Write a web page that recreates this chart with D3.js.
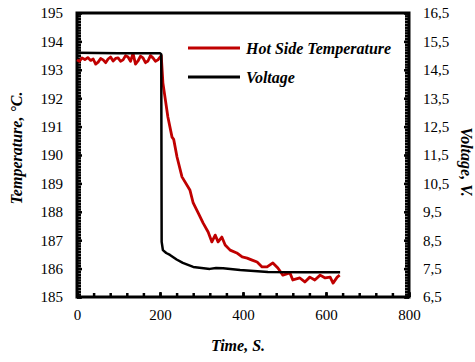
<!DOCTYPE html>
<html>
<head>
<meta charset="utf-8">
<script src="https://cdn.jsdelivr.net/npm/d3@7"></script>
<style>
  body { margin: 0; background: #fff; }
  svg text { font-family: "Liberation Serif", "Times New Roman", Times, serif; }
  .ttl { font-weight: bold; font-style: italic; font-size: 16px; }
</style>
</head>
<body>
<svg width="475" height="362"></svg>
<script>
// hot side temperature (left axis, °C)
const tempTime = [0, 6, 12, 19, 26, 33, 39, 45, 51, 57, 63, 69, 75, 81, 87, 93, 99, 105, 111, 117, 123, 129, 135, 141, 147, 153, 159, 165, 171, 177, 183, 189, 195, 203,
  207, 219, 229, 233, 241, 253, 272, 280, 292, 304, 316, 325, 333, 340, 349, 357, 369, 385, 398,
  410, 422, 434, 446, 458, 472, 484, 496, 513, 520, 537, 549, 561, 573, 586, 598, 610, 617, 627, 633];
const tempVal = [193.35, 193.3, 193.42, 193.36, 193.43, 193.33, 193.38, 193.2, 193.27, 193.4, 193.35, 193.25, 193.38, 193.45, 193.31, 193.4, 193.42, 193.3, 193.35, 193.5, 193.45, 193.3, 193.58, 193.2, 193.31, 193.48, 193.42, 193.25, 193.31, 193.5, 193.42, 193.3, 193.35, 193.5,
  192.54, 191.34, 190.63, 190.55, 189.93, 189.23, 188.77, 188.31, 187.96, 187.6, 187.29, 186.94, 187.18, 186.94, 187.11, 186.83, 186.65, 186.55, 186.41,
  186.37, 186.3, 186.23, 186.06, 186.06, 186.2, 186.02, 185.77, 185.85, 185.6, 185.67, 185.53, 185.7, 185.6, 185.77, 185.67, 185.7, 185.49, 185.7, 185.77];

// voltage (right axis, V)
const voltTime = [0, 100, 200, 203, 204, 207, 215, 224, 240, 255, 280, 320, 335, 352, 393, 460, 550, 634];
const voltVal = [15.1, 15.08, 15.08, 15.05, 8.44, 8.15, 8.05, 7.98, 7.82, 7.7, 7.56, 7.49, 7.52, 7.51, 7.45, 7.38, 7.37, 7.37];

const xTicks = [0, 200, 400, 600, 800];
const tempTicks = d3.range(185, 196);
const voltTicks = d3.range(65, 166, 10).map(d => d / 10);
const legendLabels = ["Hot Side Temperature", "Voltage"];
const colors = ["#C00000", "#000000"];

const svg = d3.select("svg");
const L = 77, R = 409, T = 13, B = 297;

const x = d3.scaleLinear().domain([0, 800]).range([L, R]);
const yT = d3.scaleLinear().domain([185, 195]).range([B, T]);
const yV = d3.scaleLinear().domain([6.5, 16.5]).range([B, T]);

const fmtV = d => d.toFixed(1).replace(".", ",");

// minor ticks, pointing inward
svg.append("g").attr("transform", `translate(${L},0)`)
  .call(d3.axisLeft(yT).tickValues(d3.range(1850, 1951).map(d => d / 10)).tickSize(-4).tickFormat(""))
  .call(g => g.select(".domain").remove());
svg.append("g").attr("transform", `translate(${R},0)`)
  .call(d3.axisRight(yV).tickValues(d3.range(65, 166).map(d => d / 10)).tickSize(-4).tickFormat(""))
  .call(g => g.select(".domain").remove());
svg.append("g").attr("transform", `translate(0,${B})`)
  .call(d3.axisBottom(x).tickValues(d3.range(0, 801, 40)).tickSize(-4).tickFormat(""))
  .call(g => g.select(".domain").remove());
svg.selectAll("g line").attr("stroke-width", 2);

// labelled axes
svg.append("g").attr("transform", `translate(${L},0)`)
  .call(d3.axisLeft(yT).tickValues(tempTicks).tickSizeInner(-5).tickSizeOuter(0).tickPadding(14).tickFormat(d3.format("d")));
svg.append("g").attr("transform", `translate(${R},0)`)
  .call(d3.axisRight(yV).tickValues(voltTicks).tickSizeInner(-5).tickSizeOuter(0).tickPadding(14).tickFormat(fmtV));
svg.append("g").attr("transform", `translate(0,${B})`)
  .call(d3.axisBottom(x).tickValues(xTicks).tickSizeInner(-5).tickSizeOuter(0).tickPadding(12).tickFormat(d3.format("d")));
svg.selectAll("g text").attr("font-size", 15).attr("fill", "#000");
svg.selectAll("g line").attr("stroke-width", 2.5);
svg.selectAll(".domain").remove();

// frame
svg.append("rect").attr("x", L).attr("y", T).attr("width", R - L).attr("height", B - T)
  .attr("fill", "none").attr("stroke", "#000").attr("stroke-width", 3);

// series
const tempLine = d3.line().x((d, i) => x(tempTime[i])).y(d => yT(d));
const voltLine = d3.line().x((d, i) => x(voltTime[i])).y(d => yV(d));
svg.append("path").datum(tempVal).attr("d", tempLine)
  .attr("fill", "none").attr("stroke", colors[0]).attr("stroke-width", 2.8).attr("stroke-linejoin", "round");
svg.append("path").datum(voltVal).attr("d", voltLine)
  .attr("fill", "none").attr("stroke", colors[1]).attr("stroke-width", 2.5).attr("stroke-linejoin", "round");

// legend
const leg = svg.append("g").selectAll("g").data(legendLabels).join("g")
  .attr("transform", (d, i) => `translate(188,${48 + i * 29})`);
leg.append("line").attr("x1", 0).attr("x2", 52)
  .attr("stroke", (d, i) => colors[i]).attr("stroke-width", 3);
leg.append("text").attr("class", "ttl").attr("x", 58).attr("dy", "0.35em").text(d => d);

// axis titles
svg.append("text").attr("class", "ttl").attr("text-anchor", "middle")
  .attr("transform", "translate(22,148) rotate(-90)").text("Temperature, °C.");
svg.append("text").attr("class", "ttl").attr("text-anchor", "middle")
  .attr("transform", "translate(461,162) rotate(90)").text("Voltage, V.");
svg.append("text").attr("class", "ttl").attr("text-anchor", "middle")
  .attr("x", 238).attr("y", 351).text("Time, S.");
</script>
</body>
</html>
